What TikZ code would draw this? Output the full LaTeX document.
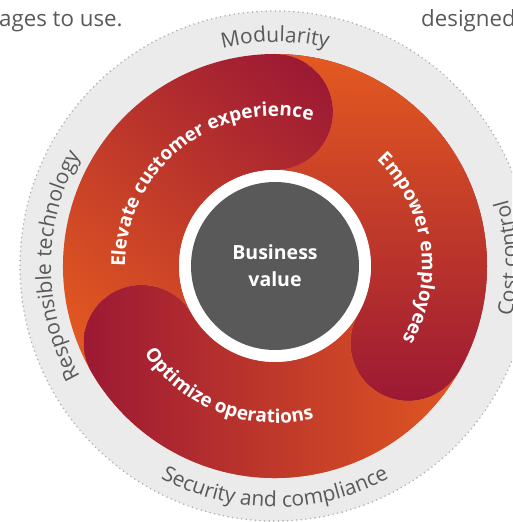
\documentclass[tikz,border=0pt]{standalone}
\usepackage{fontspec}
\newfontfamily\osans{Open Sans}
\usetikzlibrary{calc,decorations.text}
\definecolor{orangeC}{RGB}{228,90,32}
\definecolor{crimsonC}{RGB}{156,25,52}
\definecolor{ringfill}{RGB}{235,235,235}
\definecolor{dotgray}{RGB}{178,178,178}
\definecolor{inktext}{RGB}{89,89,89}
\definecolor{corefill}{RGB}{89,89,89}
\newcommand\ringfont{\osans\fontsize{21}{25}\selectfont\color{inktext}}
\newcommand\segfont{\osans\bfseries\fontsize{19}{23}\selectfont\color{white}}
\newcommand\segpath[1]{($(C)+(#1:212)$) arc[start angle=#1, end angle=#1-120, radius=212] arc[start angle=#1-120, end angle=#1-300, radius=58] arc[start angle=#1-120, end angle=#1, radius=96] arc[start angle=#1+180, end angle=#1+360, radius=58] -- cycle}
\tikzset{
  ringlabel/.style={decorate, decoration={text along path, text align=center, text={|\ringfont|#1}}},
  seglabel/.style={decorate, decoration={text along path, text align=center, text={|\segfont|#1}}},
  toptext/.style={anchor=base west, inner sep=0pt, text=inktext, font=\osans\fontsize{22.3}{26}\selectfont}
}
\begin{document}
\begin{tikzpicture}[x=1pt,y=1pt]
\useasboundingbox (0,0) rectangle (512,522);
\clip (0,0) rectangle (512,522);
\coordinate (C) at (275,256);

% top text fragments
\node (t1) [toptext] at (-1,495) {ages to use.};
\node (t2) [toptext] at (421,495) {designed};

% outer grey ring
\path[fill=ringfill, draw=dotgray, line width=1.8pt, dash pattern=on 0pt off 4.6pt, line cap=round] (C) circle (255);

% segment 1: Elevate (tail 210, head 90)
\begin{scope}
  \clip \segpath{210};
  \begin{scope}[transform canvas={rotate=50}]
    \fill[orangeC] (-900,-900) rectangle (180,900);
    \shade[left color=orangeC, right color=crimsonC] (180,-900) rectangle (548,900);
    \fill[crimsonC] (548,-900) rectangle (1300,900);
  \end{scope}
\end{scope}

% segment 2: Empower (tail 90, head -30)
\begin{scope}
  \clip \segpath{90};
  \fill[crimsonC] (0,0) rectangle (512,522);
  \shade[top color=orangeC, bottom color=crimsonC] (0,121) rectangle (512,468);
  \fill[orangeC] (0,468) rectangle (512,522);
\end{scope}

% segment 3: Optimize (tail -30, head -150)
\begin{scope}
  \clip \segpath{-30};
  \fill[orangeC] (0,0) rectangle (512,522);
  \shade[left color=crimsonC, right color=orangeC] (84,0) rectangle (480,522);
  \fill[crimsonC] (0,0) rectangle (84,522);
\end{scope}

% core
\fill[white] (C) circle (96);
\fill[corefill] (C) circle (84);
\node (bv) [font=\osans\bfseries\fontsize{19.5}{27}\selectfont, text=white, align=center] at (C) {Business\\value};

% ring labels
\path[ringlabel=Modularity] ($(C)+(150:224)$) arc[start angle=150, end angle=30, radius=224];
\path[ringlabel=Responsible technology] ($(C)+(250:224)$) arc[start angle=250, end angle=110, radius=224];
\path[ringlabel=Cost control] ($(C)+(-58:242)$) arc[start angle=-58, end angle=62, radius=242];
\path[ringlabel=Security and compliance] ($(C)+(200:241)$) arc[start angle=200, end angle=340, radius=241];

% segment labels
\path[seglabel=Elevate customer experience] ($(C)+(210:150)$) arc[start angle=210, end angle=46, radius=150];
\path[seglabel=Empower employees] ($(C)+(88:147)$) arc[start angle=88, end angle=-72, radius=147];
\path[seglabel=Optimize operations] ($(C)+(169:157)$) arc[start angle=169, end angle=329, radius=157];
\end{tikzpicture}
\end{document}
